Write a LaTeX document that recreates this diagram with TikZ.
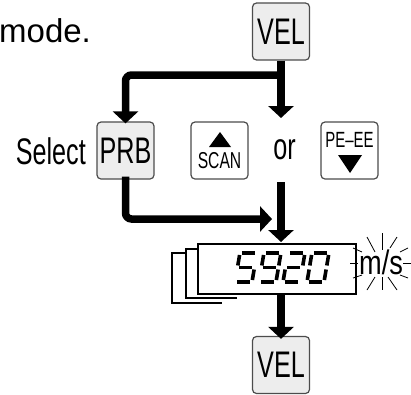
\documentclass[tikz,border=0pt]{standalone}
\usepackage{fontspec}
\setmainfont{Liberation Sans}
\newfontfamily\narrowf{Liberation Sans}[FakeStretch=0.68]
\newfontfamily\midf{Liberation Sans}[FakeStretch=0.8]
\usetikzlibrary{arrows.meta}
\tikzset{
  key/.style={draw=black!70, line width=1.2pt, rounded corners=4pt, minimum width=57pt, minimum height=57pt, inner sep=0pt, font=\narrowf\fontsize{37}{40}\selectfont},
  graykey/.style={key, fill=black!7},
  whitekey/.style={key, fill=white},
  arr/.style={line width=7.5pt, -{Triangle[width=25pt,length=12pt]}},
  seg/.style={line width=3.6pt, line cap=butt},
  stackline/.style={line width=2pt},
  ray/.style={line width=0.8pt},
  lbl/.style={inner sep=0pt, font=\narrowf\fontsize{37}{40}\selectfont},
}
\newcommand\segA{\draw[seg] (2,29) -- (15,29);}
\newcommand\segB{\draw[seg] (17,27) -- (17,16.5);}
\newcommand\segC{\draw[seg] (17,12.5) -- (17,2);}
\newcommand\segD{\draw[seg] (2,0) -- (15,0);}
\newcommand\segE{\draw[seg] (0,2) -- (0,12.5);}
\newcommand\segF{\draw[seg] (0,16.5) -- (0,27);}
\newcommand\segG{\draw[seg] (2,14.5) -- (15,14.5);}
\begin{document}
\begin{tikzpicture}[x=1pt,y=-1pt]
\useasboundingbox (0,0) rectangle (411,394);
% text at top
\node[inner sep=0pt, anchor=base west, font=\fontsize{33}{36}\selectfont] (mode) at (-1,42) {mode.};
% keys
\node[graykey] (vel) at (281,31.5) {VEL};
\node[graykey] (prb) at (125.5,150.5) {PRB};
\node[whitekey] (scan) at (219.5,150.5) {};
\node[whitekey] (pe) at (349.5,150.5) {};
\node[graykey] (vel2) at (281,365) {VEL};
% key contents
\fill (220,132) -- (231,147) -- (209,147) -- cycle;
\node[inner sep=0pt, anchor=base, font=\narrowf\fontsize{23}{24}\selectfont] (scantxt) at (219.5,168) {SCAN};
\node[inner sep=0pt, anchor=base, font=\narrowf\fontsize{22}{24}\selectfont] (petxt) at (349.5,147) {PE–EE};
\fill (338,155) -- (362,155) -- (350,173) -- cycle;
% labels
\node[lbl, anchor=base east] (select) at (86,164) {Select};
\node[lbl, anchor=base] (or) at (284.5,159) {or};
% display
\node[draw, line width=2.5pt, minimum width=158pt, minimum height=50pt, inner sep=0pt] (disp) at (277,269) {};
\draw[stackline] (disp.north west |- 0,249) -- (186,249) -- (186,298) -- (237,298);
\draw[stackline] (186,253) -- (172,253) -- (172,303) -- (222,303);
% digits 5 9 2 0
\begin{scope}[shift={(235,282)}, x=1pt, y=1pt, xslant=0.17]
  \segA \segF \segG \segC \segD
\end{scope}
\begin{scope}[shift={(259,282)}, x=1pt, y=1pt, xslant=0.17]
  \segA \segB \segC \segD \segF \segG
\end{scope}
\begin{scope}[shift={(283,282)}, x=1pt, y=1pt, xslant=0.17]
  \segA \segB \segG \segE \segD
\end{scope}
\begin{scope}[shift={(307,282)}, x=1pt, y=1pt, xslant=0.17]
  \segA \segB \segC \segD \segE \segF
\end{scope}
% m/s with sparkle
\node[inner sep=0pt, anchor=base west, font=\midf\fontsize{34}{36}\selectfont] (ms) at (359,274) {m/s};
\draw[ray] (367,237) -- (375,252);
\draw[ray] (382,233) -- (382,250);
\draw[ray] (397,237) -- (390,248);
\draw[ray] (353,248) -- (362,252);
\draw[ray] (350,263) -- (358,263);
\draw[ray] (353,278) -- (362,275);
\draw[ray] (400,252) -- (408,248);
\draw[ray] (403,263) -- (411,263);
\draw[ray] (400,275) -- (408,278);
\draw[ray] (367,290) -- (375,277);
\draw[ray] (382,277) -- (382,290);
\draw[ray] (388,277) -- (397,290);
% connectors
\coordinate (c1) at (281,118);
\coordinate (c2) at (281,182);
\coordinate (c3) at (281,242);
\coordinate (c4) at (272,219);
\draw[arr] (vel.south) -- (c1);
\draw[arr, rounded corners=6pt] (281,75) -| ([yshift=-2pt]prb.north);
\draw[arr, rounded corners=6pt] ([yshift=3pt]prb.south) |- (c4);
\draw[arr] (c2) -- (c3);
\draw[arr] (disp.south -| vel2.north) -- ([yshift=-3pt]vel2.north);
\end{tikzpicture}
\end{document}
